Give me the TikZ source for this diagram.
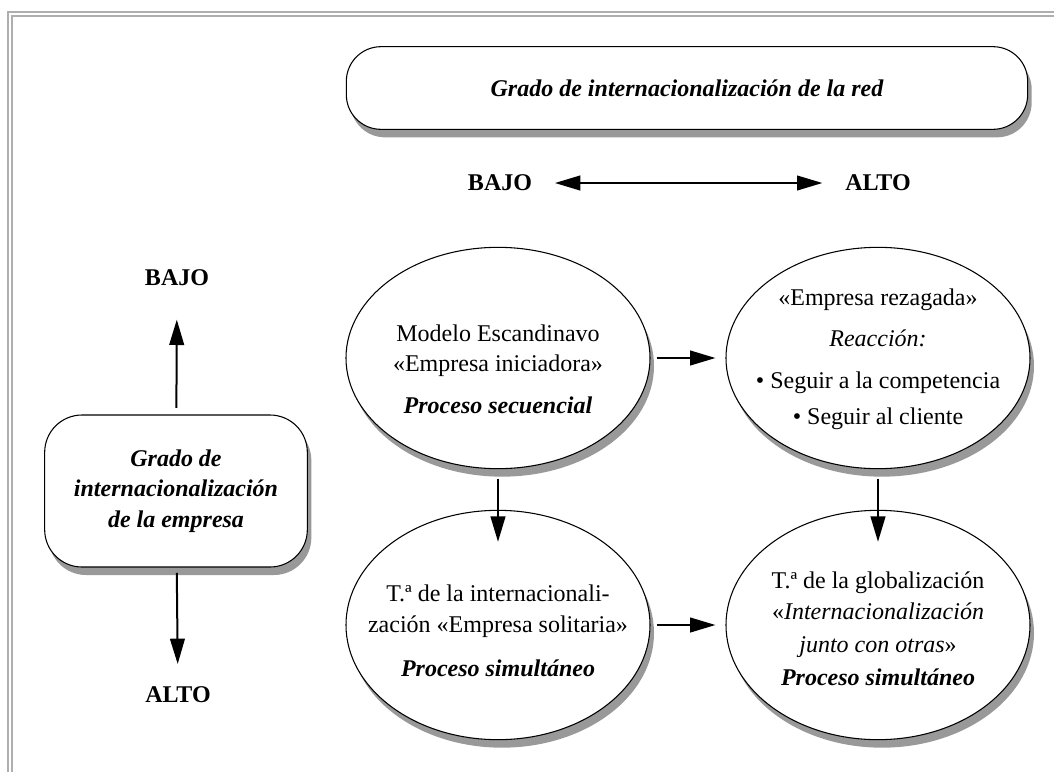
\documentclass[tikz,border=0pt]{standalone}
\usepackage{fontspec}
\setmainfont{Liberation Serif}
\usetikzlibrary{positioning, shapes.geometric, shadows, arrows.meta}
\tikzstyle{canvas} = [x = .75pt, y = -.75pt]
\definecolor{shadowColor}{RGB}{153,153,153}
\definecolor{frameColor}{RGB}{175,175,175}
\tikzstyle{shadowStyle} = [drop shadow = {shadow xshift = 3pt, shadow yshift = -6pt, fill = shadowColor, opacity = 1}]
\tikzstyle{bubbleStyle} = [ellipse, draw, line width = .8pt, fill = white, shadowStyle, minimum width = 228pt, minimum height = 166pt, inner sep = 0pt]
\tikzstyle{bubbleText} = [inner sep = 0pt, align = center, font = \fontsize{18}{23}\selectfont]
\tikzstyle{boxStyle} = [draw, line width = .8pt, fill = white, shadowStyle, inner sep = 0pt, align = center, font = \fontsize{18}{23}\selectfont\bfseries\itshape]
\tikzstyle{levelText} = [inner sep = 0pt, font = \fontsize{18}{23}\selectfont\bfseries]
\tikzstyle{flowArrow} = [-{Triangle[length = 19pt, width = 11pt]}, line width = 1.5pt]
\newcommand{\bubble}[6][]{
  \node [bubbleStyle, #1] (#2) at (#3, #4) {};
  \node [bubbleText] (#2Text) at (#3, #4 + #6) {#5};
}

\begin{document}
\begin{tikzpicture}[canvas]
  \useasboundingbox (0, 0) rectangle (1054, 772);
  % frame
  \draw [frameColor, line width = 2pt] (8, 772) -- (8, 12) -- (1054, 12);
  \draw [frameColor, line width = .8pt] (12, 772) -- (12, 16) -- (1054, 16);

  % axes
  \node [boxStyle, minimum width = 511pt, minimum height = 62pt, rounded corners = 26pt] (gradoRed) at (687, 88) {Grado de internacionalización de la red};
  \node [levelText] (bajoRed) at (500, 183) {BAJO};
  \node [levelText] (altoRed) at (878, 183) {ALTO};
  \draw [flowArrow, {Triangle[length = 19pt, width = 11pt]}-{Triangle[length = 19pt, width = 11pt]}, shorten <= 17pt, shorten >= 17pt] (bajoRed) -- (altoRed);

  \node [boxStyle, minimum width = 197pt, minimum height = 114pt, rounded corners = 28pt] (gradoEmpresa) at (176, 491) {Grado de\\internacionalización\\de la empresa};
  \node [levelText] (bajoEmpresa) at (177, 278) {BAJO};
  \node [levelText] (altoEmpresa) at (178, 695) {ALTO};
  \draw [flowArrow, shorten <= 5pt, shorten >= 25pt] (gradoEmpresa) -- (bajoEmpresa);
  \draw [flowArrow, shorten <= 4pt, shorten >= 17pt] (gradoEmpresa) -- (altoEmpresa);

  % models
  \bubble{escandinavo}{498}{358}{Modelo Escandinavo\\«Empresa iniciadora»\\[8pt]\textbf{\textit{Proceso secuencial}}}{11}
  \bubble{rezagada}{878}{358}{«Empresa rezagada»\\[8pt]\textit{Reacción:}\\[8pt]• Seguir a la competencia\\[4pt]• Seguir al cliente}{1}
  \bubble[minimum height = 172pt]{solitaria}{498}{625}{T.ª de la internacionali-\\zación «Empresa solitaria»\\[10pt]\textbf{\textit{Proceso simultáneo}}}{6}
  \bubble[minimum height = 172pt]{globalizacion}{878}{625}{T.ª de la globalización\\«\textit{Internacionalización}\\[2pt]\textit{junto con otras}»\\[2pt]\textbf{\textit{Proceso simultáneo}}}{4}

  \draw [flowArrow, shorten <= 4.5pt, shorten >= 7.5pt] (escandinavo) -- (rezagada);
  \draw [flowArrow, shorten <= 4.5pt, shorten >= 7.5pt] (solitaria) -- (globalizacion);
  \draw [flowArrow, shorten <= 7pt, shorten >= -24pt] (escandinavo) -- (solitaria);
  \draw [flowArrow, shorten <= 7pt, shorten >= -24pt] (rezagada) -- (globalizacion);
\end{tikzpicture}
\end{document}
